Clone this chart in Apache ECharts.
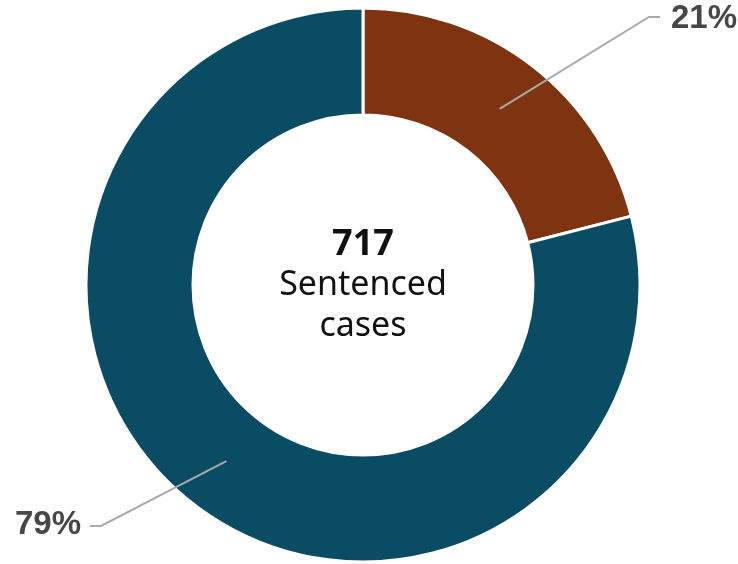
<!DOCTYPE html>
<html>
<head>
<meta charset="utf-8">
<script src="https://cdn.jsdelivr.net/npm/echarts@6/dist/echarts.min.js"></script>
<style>
  html, body { margin: 0; padding: 0; background: #ffffff; }
  #chart { width: 738px; height: 564px; }
</style>
</head>
<body>
<div id="chart"></div>
<script>
// Share of sentenced cases, in percent
const categories = ['Segment A', 'Segment B'];
const shares = [21, 79];
const colors = ['#7E3410', '#0B4C65'];
const totalCases = 717;
const centerTitle = 'Sentenced';
const centerSub = 'cases';

const chart = echarts.init(document.getElementById('chart'), null, { renderer: 'canvas' });

const pieData = categories.map((name, i) => ({ name, value: shares[i] }));
const pieCenter = [363, 285];

const option = {
  backgroundColor: '#ffffff',
  animation: false,
  series: [
    {
      // the ring itself
      type: 'pie',
      z: 1,
      center: pieCenter,
      radius: [170, 277],
      startAngle: 90,
      clockwise: true,
      silent: true,
      label: { show: false },
      labelLine: { show: false },
      itemStyle: {
        color: (p) => colors[p.dataIndex],
        borderColor: '#ffffff',
        borderWidth: 3
      },
      data: pieData
    },
    {
      // transparent twin whose outer edge sits mid-ring; it only carries labels and leader lines
      type: 'pie',
      z: 5,
      center: pieCenter,
      radius: [0, 223],
      startAngle: 90,
      clockwise: true,
      silent: true,
      itemStyle: { color: 'rgba(0,0,0,0)' },
      label: {
        show: true,
        position: 'outside',
        formatter: '{c}%',
        fontFamily: 'Liberation Sans',
        fontWeight: 'bold',
        fontSize: 33,
        color: '#474747'
      },
      labelLine: {
        show: true,
        length: 20,
        length2: 10,
        lineStyle: { color: '#A9A9A9', width: 2 }
      },
      labelLayout: function (p) {
        const w = chart.getWidth();
        const h = chart.getHeight();
        const start = p.labelLinePoints ? p.labelLinePoints[0] : [0, 0];
        if (p.dataIndex === 0) {
          const ex = w - 89, ey = 17;
          return {
            x: ex + 22, y: ey + 2, align: 'left', verticalAlign: 'middle',
            labelLinePoints: [start, [ex, ey], [ex + 11, ey]]
          };
        }
        const ex = 101, ey = h - 38;
        return {
          x: ex - 20, y: ey - 1, align: 'right', verticalAlign: 'middle',
          labelLinePoints: [start, [ex, ey], [ex - 11, ey]]
        };
      },
      data: pieData
    }
  ],
  graphic: [
    {
      type: 'text',
      x: pieCenter[0],
      y: 227,
      style: {
        text: String(totalCases),
        font: 'bold 36px "Noto Sans"',
        fill: '#111111',
        textAlign: 'center',
        textVerticalAlign: 'top'
      }
    },
    {
      type: 'text',
      x: pieCenter[0],
      y: 265,
      style: {
        text: centerTitle + '\n' + centerSub,
        font: '34px "Noto Sans"',
        lineHeight: 41,
        fill: '#111111',
        textAlign: 'center',
        textVerticalAlign: 'top'
      }
    }
  ]
};

chart.setOption(option);
</script>
</body>
</html>
